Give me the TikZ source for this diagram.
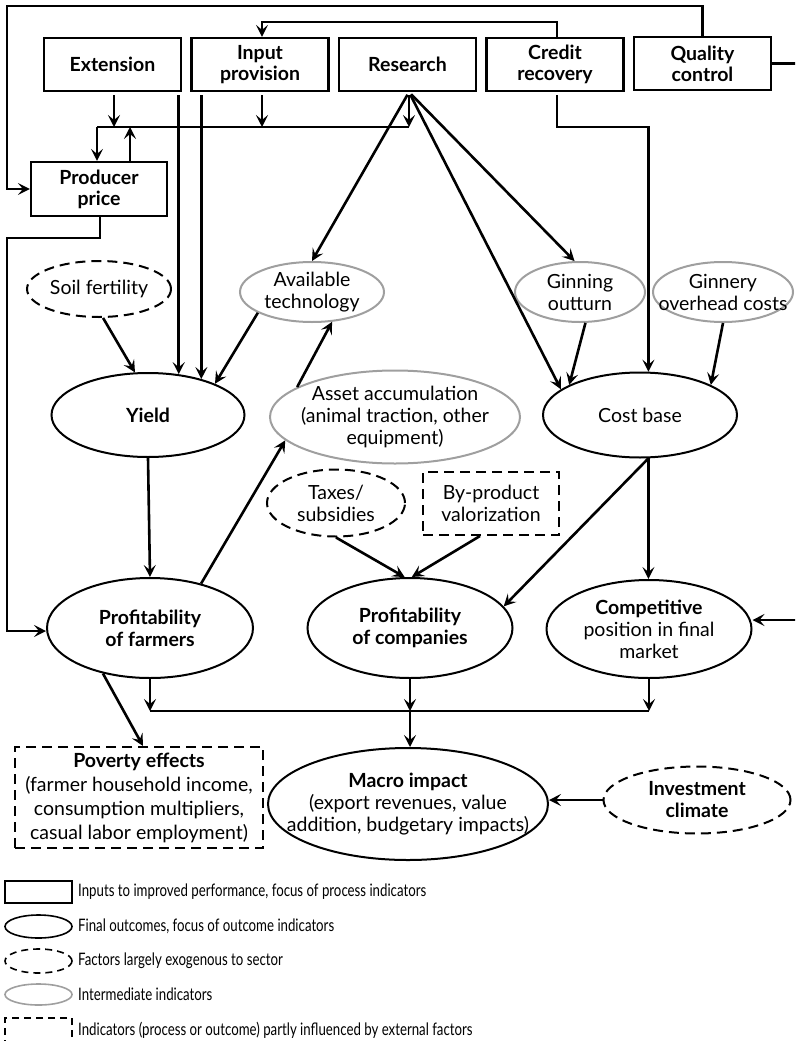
\documentclass[tikz,border=0pt]{standalone}
\usepackage{fontspec}
\setmainfont{Lato}
\newfontfamily\legendfont[FakeStretch=0.77]{Lato}
\usetikzlibrary{arrows.meta,shapes.geometric}
\begin{document}
\begin{tikzpicture}[x=1pt,y=-1pt,
  every node/.style={font=\fontsize{19.5}{22}\selectfont, align=center, inner sep=0pt},
  box/.style={draw, line width=2.2pt, rectangle, minimum width=137pt, minimum height=53pt, font=\fontsize{19.5}{21}\selectfont\bfseries},
  ell/.style={draw, ellipse, line width=2pt},
  gell/.style={draw=gray!75, ellipse, line width=2pt},
  dell/.style={draw, ellipse, line width=2pt, dash pattern=on 10pt off 6pt},
  drect/.style={draw, rectangle, line width=2pt, dash pattern=on 10pt off 6pt},
  bf/.style={font=\fontsize{19.5}{22}\selectfont\bfseries},
  conn/.style={line width=2.6pt},
  arr/.style={conn, -{Stealth[length=12pt,width=12pt,inset=5pt]}},
  lgtext/.style={anchor=west, font=\fontsize{17.2}{19}\legendfont},
]
\useasboundingbox (0,0) rectangle (795,1041);

% input boxes
\node[box] (ext) at (112.5,64.5) {Extension};
\node[box] (inp) at (260,64.5) {Input\\provision};
\node[box] (res) at (407.5,64.5) {Research};
\node[box] (cred) at (555,64.5) {Credit\\recovery};
\node[box] (qual) at (702.5,63.5) {Quality\\control};
\node[box, minimum width=136pt, minimum height=54pt] (prod) at (99,189) {Producer\\price};

% ellipses
\node[dell, minimum width=144pt, minimum height=56pt, label={center:Soil fertility}] (soil) at (99,289) {};
\node[gell, minimum width=144pt, minimum height=60pt, label={center:Available\\technology}] (avail) at (312,292) {};
\node[gell, minimum width=130pt, minimum height=60pt, label={center:Ginning\\outturn}] (gin) at (580,292) {};
\node[gell, minimum width=140pt, minimum height=60pt, label={center:Ginnery\\overhead costs}] (ginn) at (723,292) {};
\node[ell, minimum width=193pt, minimum height=84pt, label={[bf]center:Yield}] (yield) at (148,415) {};
\node[gell, minimum width=250pt, minimum height=93pt, label={center:Asset accumulation\\(animal traction, other\\equipment)}] (asset) at (395,417) {};
\node[ell, minimum width=194pt, minimum height=85pt, label={center:Cost base}] (cost) at (640,415) {};
\node[dell, minimum width=138pt, minimum height=67pt, label={center:Taxes/\\subsidies}] (tax) at (336,503) {};
\node[drect, minimum width=136pt, minimum height=63pt] (byp) at (491,503.5) {By-product\\valorization};
\node[ell, minimum width=206pt, minimum height=100pt, label={[bf]center:Profitability\\of farmers}] (pfarm) at (150,628) {};
\node[ell, minimum width=205pt, minimum height=100pt, label={[bf]center:Profitability\\of companies}] (pcomp) at (410,628) {};
\node[ell, minimum width=205pt, minimum height=98pt, label={center:\textbf{Competitive}\\position in final\\market}] (comp) at (649,629) {};
\node[drect, minimum width=248pt, minimum height=101pt, font=\fontsize{19.5}{24}\selectfont] (pov) at (139,797.5) {\textbf{Poverty effects}\\(farmer household income,\\consumption multipliers,\\casual labor employment)};
\node[ell, minimum width=280pt, minimum height=112pt, label={center:\textbf{Macro impact}\\(export revenues, value\\addition, budgetary impacts)}] (macro) at (408,804) {};
\node[dell, minimum width=187pt, minimum height=67pt, label={[bf]center:Investment\\climate}] (inv) at (697,800) {};

% feedback loops on top
\draw[arr] (qual.north) |- (7,6) |- (prod.west);
\draw[arr] ([xshift=2pt]cred.north) |- ([xshift=2pt]inp.north |- 0,22) -- ([xshift=2pt]inp.north);
\begin{scope}
\clip (0,0) rectangle (795,1041);
\draw[arr] (qual.east) -| ([xshift=60pt,yshift=9pt]comp.east) -- ([yshift=9pt]comp.east);
\end{scope}

% top bus
\coordinate (busL) at (97,127);
\coordinate (busR) at (409,127);
\draw[conn] (busL) -- (busR);
\draw[arr, shorten <=3pt] ([xshift=1.5pt]ext.south) -- ([xshift=1.5pt]ext.south |- busL);
\draw[arr, shorten <=3pt] ([xshift=2pt]inp.south) -- ([xshift=2pt]inp.south |- busL);
\draw[arr, shorten <=3pt] ([xshift=1.5pt]res.south) -- (busR);
\draw[arr] (busL) -- (busL |- prod.north);
\draw[arr] ([xshift=31pt]prod.north) -- ([xshift=31pt]prod.north |- busL);

% to yield
\draw[arr, shorten <=3pt] (yield.53 |- ext.south) -- (yield.53);
\draw[arr, shorten <=3pt] (yield.34 |- inp.south) -- (yield.34);
\draw[arr] (soil.-82) -- (yield.107);
\draw[arr] (avail.201) -- (yield.25);

% research
\draw[arr, shorten <=3pt] ([xshift=1.5pt]res.south) -- (avail.north);
\draw[arr, shorten <=3pt] ([xshift=1.5pt]res.south) -- (cost.162);
\draw[arr, shorten <=3pt] ([xshift=1.5pt]res.south) -- (gin.100);

% credit recovery
\draw[arr, shorten <=3pt] ([xshift=2pt]cred.south) |- (cost.79 |- busL) -- (cost.79);

% producer price to farmers
\draw[arr] ([xshift=1pt]prod.south) |- (7,238) |- ([yshift=-3pt]pfarm.west);

% middle
\draw[arr] (asset.163) -- (avail.304);
\draw[arr] (yield.south) -- (pfarm.north);
\draw[arr] (pfarm.41) -- (asset.192);
\draw[arr] (gin.-80) -- (cost.157);
\draw[arr] (ginn.south) -- (cost.23);
\draw[arr] (tax.south) -- (pcomp.96);
\draw[arr] ([xshift=-11pt]byp.south) -- (pcomp.88);
\draw[arr] (cost.-79) -- (pcomp.13);
\draw[arr] (cost.-79) -- (cost.-79 |- comp.north);

% bottom bus
\coordinate (busB) at (410,711);
\draw[conn] (pfarm.south |- busB) -- (comp.south |- busB);
\draw[arr] (pfarm.south) -- (pfarm.south |- busB);
\draw[arr] (pcomp.south) -- (busB);
\draw[arr] (comp.south) -- (comp.south |- busB);
\draw[arr] (busB) -- (busB |- macro.north);
\draw[arr] (pfarm.224) -- ([xshift=4pt]pov.north);
\draw[arr] (inv.west) -- (inv.west -| macro.east);

% legend
\node[draw, line width=1.5pt, minimum width=67pt, minimum height=22pt] (lg1) at (38.5,892) {};
\node[lgtext] (lt1) at (78,892) {Inputs to improved performance, focus of process indicators};
\node[draw, ellipse, line width=1.6pt, minimum width=67pt, minimum height=23pt] (lg2) at (38.5,926.5) {};
\node[lgtext] (lt2) at (78,926.5) {Final outcomes, focus of outcome indicators};
\node[draw, ellipse, line width=1.6pt, dash pattern=on 7pt off 5pt, minimum width=67pt, minimum height=24pt] (lg3) at (38.5,961) {};
\node[lgtext] (lt3) at (78,961) {Factors largely exogenous to sector};
\node[draw=gray!75, ellipse, line width=1.6pt, minimum width=67pt, minimum height=21pt] (lg4) at (38.5,994.5) {};
\node[lgtext] (lt4) at (78,994.5) {Intermediate indicators};
\node[draw, line width=1.5pt, dash pattern=on 7pt off 5pt, minimum width=67pt, minimum height=24pt] (lg5) at (38.5,1030) {};
\node[lgtext] (lt5) at (78,1030) {Indicators (process or outcome) partly influenced by external factors};
\end{tikzpicture}
\end{document}
